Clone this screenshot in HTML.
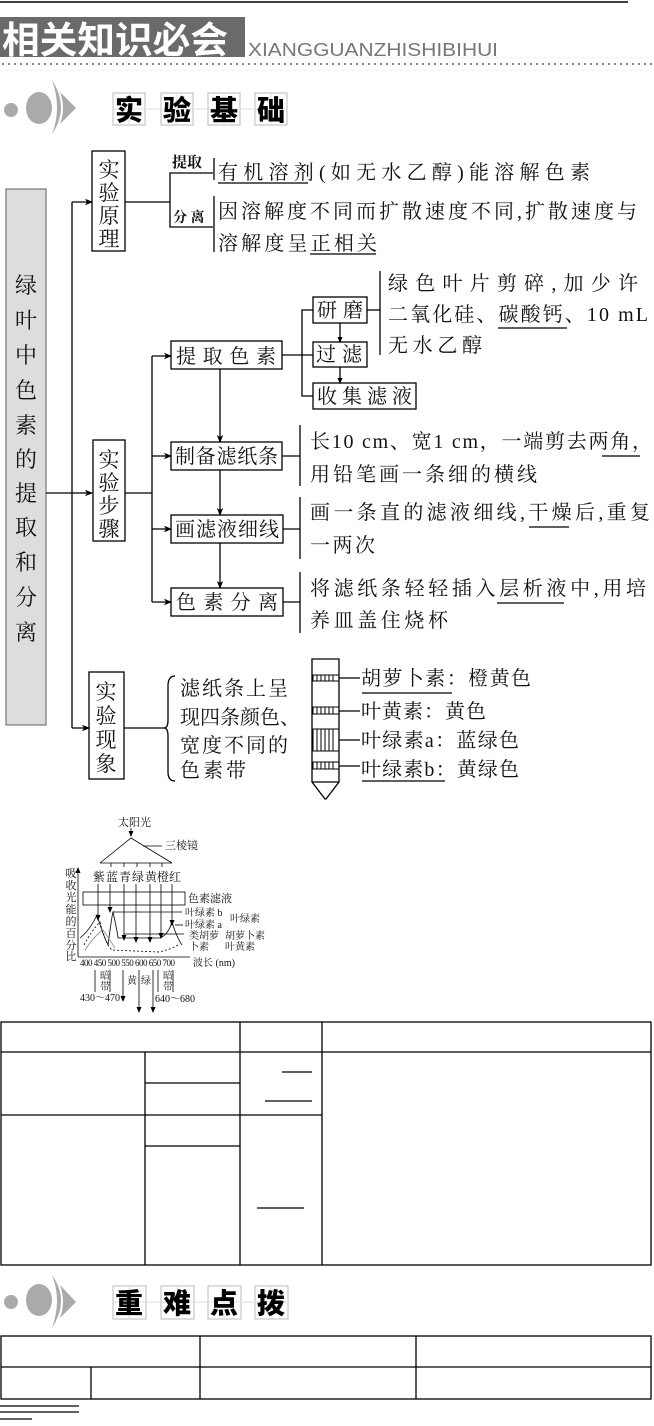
<!DOCTYPE html>
<html><head><meta charset="utf-8"><style>
html,body{margin:0;padding:0;background:#fff;}
svg{display:block;}
.s{font-family:"Liberation Serif","Noto Serif CJK SC",serif;fill:#111;}
.b{font-family:"Noto Sans CJK SC",sans-serif;font-weight:900;fill:#000;}
</style></head><body>
<svg width="654" height="1426" viewBox="0 0 654 1426" xmlns="http://www.w3.org/2000/svg">
<defs>
<marker id="ar" markerWidth="8" markerHeight="8" refX="7" refY="4" orient="auto" markerUnits="userSpaceOnUse"><path d="M0,0.8 L8,4 L0,7.2 L2,4 Z" fill="#000"/></marker>
<marker id="ar2" markerWidth="6" markerHeight="6" refX="5" refY="3" orient="auto" markerUnits="userSpaceOnUse"><path d="M0,0.5 L6,3 L0,5.5 Z" fill="#000"/></marker>
</defs>
<!-- header -->
<line x1="0" y1="2" x2="628" y2="2" stroke="#000" stroke-width="1.5"/>
<rect x="0" y="17" width="245" height="40" fill="#6a6a6a"/>
<text x="2" y="53" font-family="Noto Sans CJK SC,sans-serif" font-size="37" fill="#fff" font-weight="bold" textLength="226" lengthAdjust="spacingAndGlyphs">相关知识必会</text>
<text x="248" y="56" font-family="Liberation Sans,sans-serif" font-size="18" fill="#777" textLength="250" lengthAdjust="spacingAndGlyphs">XIANGGUANZHISHIBIHUI</text>
<line x1="2" y1="64" x2="654" y2="64" stroke="#888" stroke-width="2" stroke-dasharray="2,4"/>
<!-- icon1 -->
<g fill="#aaa"><circle cx="11" cy="110" r="7"/><ellipse cx="39" cy="108" rx="13" ry="16"/>
<path d="M52,80 Q70,108 52,134 Q62,108 52,80 Z"/><path d="M60,92 L76,108 L60,124 Q66,108 60,92 Z"/></g>
<g stroke="#bbb" fill="#fff"><rect x="113" y="93" width="32" height="32"/><rect x="161" y="93" width="32" height="32"/><rect x="208" y="93" width="32" height="32"/><rect x="255" y="93" width="32" height="32"/></g>
<g stroke="#ddd"><line x1="129" y1="93" x2="129" y2="125"/><line x1="177" y1="93" x2="177" y2="125"/><line x1="224" y1="93" x2="224" y2="125"/><line x1="271" y1="93" x2="271" y2="125"/><line x1="113" y1="109" x2="287" y2="109"/></g>
<g class="b" font-size="28" text-anchor="middle"><text x="129" y="120">实</text><text x="177" y="120">验</text><text x="224" y="120">基</text><text x="271" y="120">础</text></g>

<!-- flowchart -->
<rect x="6" y="189" width="40" height="536" fill="#ddd" stroke="#777" stroke-width="1.2"/>
<g class="s" font-size="22" text-anchor="middle">
<text x="26" y="293">绿</text><text x="26" y="328">叶</text><text x="26" y="363">中</text><text x="26" y="398">色</text><text x="26" y="433">素</text><text x="26" y="467">的</text><text x="26" y="501">提</text><text x="26" y="535">取</text><text x="26" y="570">和</text><text x="26" y="605">分</text><text x="26" y="640">离</text>
</g>
<g stroke="#000" stroke-width="1.3" fill="none">
<line x1="72" y1="202" x2="72" y2="728"/>
<line x1="46" y1="493" x2="92" y2="493" marker-end="url(#ar)"/>
<line x1="72" y1="202" x2="92" y2="202" marker-end="url(#ar)"/>
<line x1="72" y1="728" x2="89" y2="728" marker-end="url(#ar)"/>
<rect x="92" y="151" width="33" height="100"/>
<rect x="93" y="440" width="32" height="101"/>
<rect x="89" y="672" width="35" height="107"/>
<line x1="125" y1="202" x2="170" y2="202"/>
<polyline points="213,173 170,173 170,227 213,227"/>
<line x1="214" y1="158" x2="214" y2="180"/>
<line x1="214" y1="196" x2="214" y2="252"/>
<line x1="125" y1="493" x2="152" y2="493"/>
<line x1="152" y1="356" x2="152" y2="602"/>
<line x1="152" y1="356" x2="171" y2="356" marker-end="url(#ar)"/>
<line x1="152" y1="456" x2="171" y2="456" marker-end="url(#ar)"/>
<line x1="152" y1="529" x2="171" y2="529" marker-end="url(#ar)"/>
<line x1="152" y1="602" x2="171" y2="602" marker-end="url(#ar)"/>
<rect x="171" y="341" width="111" height="28"/>
<rect x="171" y="442" width="111" height="28"/>
<rect x="171" y="515" width="112" height="28"/>
<rect x="171" y="588" width="112" height="28"/>
<line x1="220" y1="369" x2="220" y2="442" marker-end="url(#ar)"/>
<line x1="220" y1="470" x2="220" y2="515" marker-end="url(#ar)"/>
<line x1="220" y1="543" x2="220" y2="588" marker-end="url(#ar)"/>
<line x1="282" y1="355" x2="313" y2="355"/>
<polyline points="313,310 302,310 302,396 313,396"/>
<rect x="313" y="297" width="54" height="26"/>
<rect x="313" y="342" width="54" height="25"/>
<rect x="313" y="383" width="103" height="26"/>
<line x1="340" y1="323" x2="340" y2="342" marker-end="url(#ar2)"/>
<line x1="340" y1="367" x2="340" y2="383" marker-end="url(#ar2)"/>
<line x1="367" y1="310" x2="380" y2="310"/>
<line x1="380" y1="271" x2="380" y2="355"/>
<line x1="282" y1="456" x2="300" y2="456"/><line x1="300" y1="425" x2="300" y2="486"/>
<line x1="283" y1="529" x2="300" y2="529"/><line x1="300" y1="497" x2="300" y2="559"/>
<line x1="283" y1="602" x2="300" y2="602"/><line x1="300" y1="572" x2="300" y2="633"/>
<line x1="124" y1="728" x2="165" y2="728"/>
<path d="M175,676 Q168,676 168,686 L168,720 Q168,728 164,728 Q168,728 168,736 L168,772 Q168,781 175,781"/>
<path d="M312,659 L339,659 L339,782 L326,799 L325,799 L312,782 Z"/>
<line x1="312" y1="782" x2="339" y2="782"/>
<line x1="339" y1="678" x2="360" y2="678"/><line x1="339" y1="711" x2="360" y2="711"/>
<line x1="339" y1="740" x2="360" y2="740"/><line x1="339" y1="766" x2="360" y2="766"/>
</g>
<g stroke="#000" stroke-width="1" fill="none">
<rect x="313" y="675" width="26" height="6"/><rect x="313" y="707" width="26" height="7"/>
<rect x="313" y="729" width="26" height="22"/><rect x="313" y="762" width="26" height="7"/>
<path d="M317,675v6M321,675v6M325,675v6M329,675v6M333,675v6M317,707v7M321,707v7M325,707v7M329,707v7M333,707v7M317,729v22M321,729v22M325,729v22M329,729v22M333,729v22M317,762v7M321,762v7M325,762v7M329,762v7M333,762v7"/>
</g>
<g class="s" font-size="21" text-anchor="middle">
<text x="109" y="177">实</text><text x="109" y="200">验</text><text x="109" y="223">原</text><text x="109" y="246">理</text>
<text x="109" y="467">实</text><text x="109" y="490">验</text><text x="109" y="513">步</text><text x="109" y="536">骤</text>
<text x="106" y="699">实</text><text x="106" y="723">验</text><text x="106" y="747">现</text><text x="106" y="771">象</text>
</g>
<g class="s" font-size="15" font-weight="bold"><text x="172" y="167">提取</text><text x="173" y="222" font-size="14">分 离</text></g>
<g class="s" font-size="20" lengthAdjust="spacing">
<text x="218" y="179" textLength="372">有机溶剂(如无水乙醇)能溶解色素</text>
<text x="218" y="218" textLength="419">因溶解度不同而扩散速度不同,扩散速度与</text>
<text x="218" y="250" textLength="159">溶解度呈正相关</text>
<text x="176" y="363" textLength="100">提 取 色 素</text>
<text x="175" y="463" textLength="103">制备滤纸条</text>
<text x="175" y="536" textLength="104">画滤液细线</text>
<text x="176" y="609" textLength="102">色 素 分 离</text>
<text x="317" y="317" textLength="46">研磨</text>
<text x="316" y="361" textLength="46">过滤</text>
<text x="317" y="403" textLength="95">收集滤液</text>
<text x="388" y="290" textLength="250">绿色叶片剪碎,加少许</text>
<text x="388" y="321" textLength="260">二氧化硅、碳酸钙、10 mL</text>
<text x="388" y="352" textLength="94">无水乙醇</text>
<text x="310" y="448" textLength="342">长10 cm、宽1 cm，一端剪去两角，</text>
<text x="310" y="481" textLength="227">用铅笔画一条细的横线</text>
<text x="310" y="519" textLength="340">画一条直的滤液细线,干燥后,重复</text>
<text x="310" y="552" textLength="65">一两次</text>
<text x="310" y="595" textLength="336">将滤纸条轻轻插入层析液中,用培</text>
<text x="310" y="627" textLength="138">养皿盖住烧杯</text>
<text x="180" y="695" textLength="108">滤纸条上呈</text>
<text x="180" y="724" textLength="120">现四条颜色、</text>
<text x="180" y="752" textLength="108">宽度不同的</text>
<text x="180" y="777" textLength="66">色素带</text>
<text x="361" y="685" textLength="170">胡萝卜素：橙黄色</text>
<text x="361" y="718" textLength="125">叶黄素：黄色</text>
<text x="361" y="747" textLength="158">叶绿素a：蓝绿色</text>
<text x="361" y="776" textLength="158">叶绿素b：黄绿色</text>
</g>
<g stroke="#000" stroke-width="1.2">
<line x1="218" y1="183" x2="308" y2="183"/><line x1="310" y1="254" x2="376" y2="254"/>
<line x1="498" y1="328" x2="567" y2="328"/><line x1="602" y1="456" x2="640" y2="456"/>
<line x1="529" y1="527" x2="569" y2="527"/><line x1="497" y1="603" x2="564" y2="603"/>
<line x1="362" y1="693" x2="452" y2="693"/><line x1="362" y1="781" x2="445" y2="781"/>
</g>

<!-- spectrum -->
<g class="s" font-size="11">
<text x="118" y="826">太阳光</text>
<text x="165" y="849">三棱镜</text>
<text x="93" y="881" font-size="12">紫</text><text x="106" y="881" font-size="12">蓝</text><text x="119" y="881" font-size="12">青</text><text x="132" y="881" font-size="12">绿</text><text x="145" y="881" font-size="12">黄</text><text x="157" y="881" font-size="12">橙</text><text x="169" y="881" font-size="12">红</text>
<text x="188" y="902">色素滤液</text>
<text x="185" y="916" font-size="10">叶绿素 b</text><text x="185" y="928" font-size="10">叶绿素 a</text><text x="230" y="922" font-size="10">叶绿素</text>
<text x="189" y="939" font-size="10">类胡萝</text><text x="189" y="950" font-size="10">卜素</text>
<text x="225" y="939" font-size="10">胡萝卜素</text><text x="225" y="950" font-size="10">叶黄素</text>
<text x="80" y="966" font-size="9" letter-spacing="-0.5">400 450 500 550 600 650 700</text>
<text x="193" y="966" font-size="10">波长 (nm)</text>
<text x="100" y="979" font-size="10">暗</text><text x="100" y="990" font-size="10">带</text>
<text x="80" y="1001" font-size="10">430～470</text>
<text x="127" y="984" font-size="10">黄</text><text x="141" y="984" font-size="10">绿</text>
<text x="163" y="979" font-size="10">暗</text><text x="163" y="990" font-size="10">带</text>
<text x="155" y="1002" font-size="10">640～680</text>
</g>
<g class="s" font-size="11" text-anchor="middle">
<text x="71" y="877">吸</text><text x="71" y="889">收</text><text x="71" y="901">光</text><text x="71" y="913">能</text><text x="71" y="925">的</text><text x="71" y="937">百</text><text x="71" y="949">分</text><text x="71" y="960">比</text>
</g>
<g stroke="#000" stroke-width="0.8" fill="none">
<line x1="131" y1="828" x2="131" y2="836" marker-end="url(#ar2)"/>
<polyline points="100,863 131,838 172,863"/>
<line x1="143" y1="846" x2="162" y2="846"/>
<line x1="100" y1="863" x2="172" y2="863"/>
<path d="M111,863v4M124,863v4M137,863v4M150,863v4M162,863v4"/>
<line x1="98" y1="884" x2="98" y2="920" marker-end="url(#ar2)"/>
<line x1="110" y1="884" x2="110" y2="912" marker-end="url(#ar2)"/>
<line x1="124" y1="884" x2="124" y2="940" marker-end="url(#ar2)"/>
<line x1="136" y1="884" x2="136" y2="942" marker-end="url(#ar2)"/>
<line x1="150" y1="884" x2="150" y2="942" marker-end="url(#ar2)"/>
<line x1="161" y1="884" x2="161" y2="938" marker-end="url(#ar2)"/>
<line x1="172" y1="884" x2="172" y2="925" marker-end="url(#ar2)"/>
<rect x="83" y="892" width="102" height="13"/>
<line x1="78" y1="957" x2="78" y2="868" marker-end="url(#ar2)"/>
<line x1="78" y1="957" x2="190" y2="957"/>
<path d="M80,938 Q90,930 97,915 Q103,935 108,945 Q112,915 113,912 Q118,935 118,938 L160,938 Q168,935 172,922 Q177,938 182,945"/>
<path d="M84,945 Q92,930 100,922 Q106,945 112,950 L158,952 Q170,950 178,945" stroke-dasharray="2,2"/>
<path d="M85,950 Q95,935 103,930 Q110,940 115,948" stroke="#888"/>
<line x1="113" y1="912" x2="182" y2="912"/><line x1="175" y1="925" x2="183" y2="925"/>
<line x1="124" y1="934" x2="184" y2="934"/>
<line x1="95" y1="970" x2="95" y2="992"/><line x1="110" y1="970" x2="110" y2="992"/>
<line x1="123" y1="970" x2="123" y2="1001" marker-end="url(#ar2)"/>
<line x1="139" y1="970" x2="139" y2="1012" marker-end="url(#ar2)"/>
<line x1="153" y1="970" x2="153" y2="1012" marker-end="url(#ar2)"/>
<line x1="158" y1="970" x2="158" y2="992"/><line x1="173" y1="970" x2="173" y2="992"/>
</g>

<!-- table 1 -->
<g stroke="#000" stroke-width="1.3" fill="none">
<rect x="1" y="1022" width="650" height="243"/>
<line x1="1" y1="1052" x2="651" y2="1052"/>
<line x1="240" y1="1022" x2="240" y2="1265"/><line x1="322" y1="1022" x2="322" y2="1265"/>
<line x1="145" y1="1052" x2="145" y2="1265"/>
<line x1="145" y1="1083" x2="240" y2="1083"/>
<line x1="1" y1="1115" x2="322" y2="1115"/>
<line x1="145" y1="1146" x2="240" y2="1146"/>
<line x1="282" y1="1072" x2="312" y2="1072"/><line x1="265" y1="1101" x2="312" y2="1101"/>
<line x1="257" y1="1208" x2="304" y2="1208"/>
</g>
<!-- icon2 -->
<g fill="#aaa"><circle cx="11" cy="1302" r="7"/><ellipse cx="39" cy="1300" rx="13" ry="16"/>
<path d="M52,1275 Q70,1300 52,1328 Q62,1300 52,1275 Z"/><path d="M60,1285 L76,1302 L60,1318 Q66,1302 60,1285 Z"/></g>
<g stroke="#bbb" fill="#fff"><rect x="113" y="1286" width="33" height="33"/><rect x="161" y="1286" width="33" height="33"/><rect x="208" y="1286" width="33" height="33"/><rect x="255" y="1286" width="33" height="33"/></g>
<g stroke="#ddd"><line x1="129" y1="1286" x2="129" y2="1319"/><line x1="177" y1="1286" x2="177" y2="1319"/><line x1="224" y1="1286" x2="224" y2="1319"/><line x1="271" y1="1286" x2="271" y2="1319"/><line x1="113" y1="1302" x2="288" y2="1302"/></g>
<g class="b" font-size="28" text-anchor="middle"><text x="129" y="1313">重</text><text x="177" y="1313">难</text><text x="224" y="1313">点</text><text x="271" y="1313">拨</text></g>
<!-- table 2 -->
<g stroke="#000" stroke-width="1.3" fill="none">
<rect x="1" y="1336" width="650" height="63"/>
<line x1="1" y1="1367" x2="651" y2="1367"/>
<line x1="200" y1="1336" x2="200" y2="1399"/><line x1="416" y1="1336" x2="416" y2="1399"/>
<line x1="91" y1="1367" x2="91" y2="1399"/>
<line x1="0" y1="1406" x2="79" y2="1406"/><line x1="0" y1="1412" x2="79" y2="1412"/><line x1="0" y1="1419" x2="32" y2="1419"/>
</g>
</svg>
</body></html>
